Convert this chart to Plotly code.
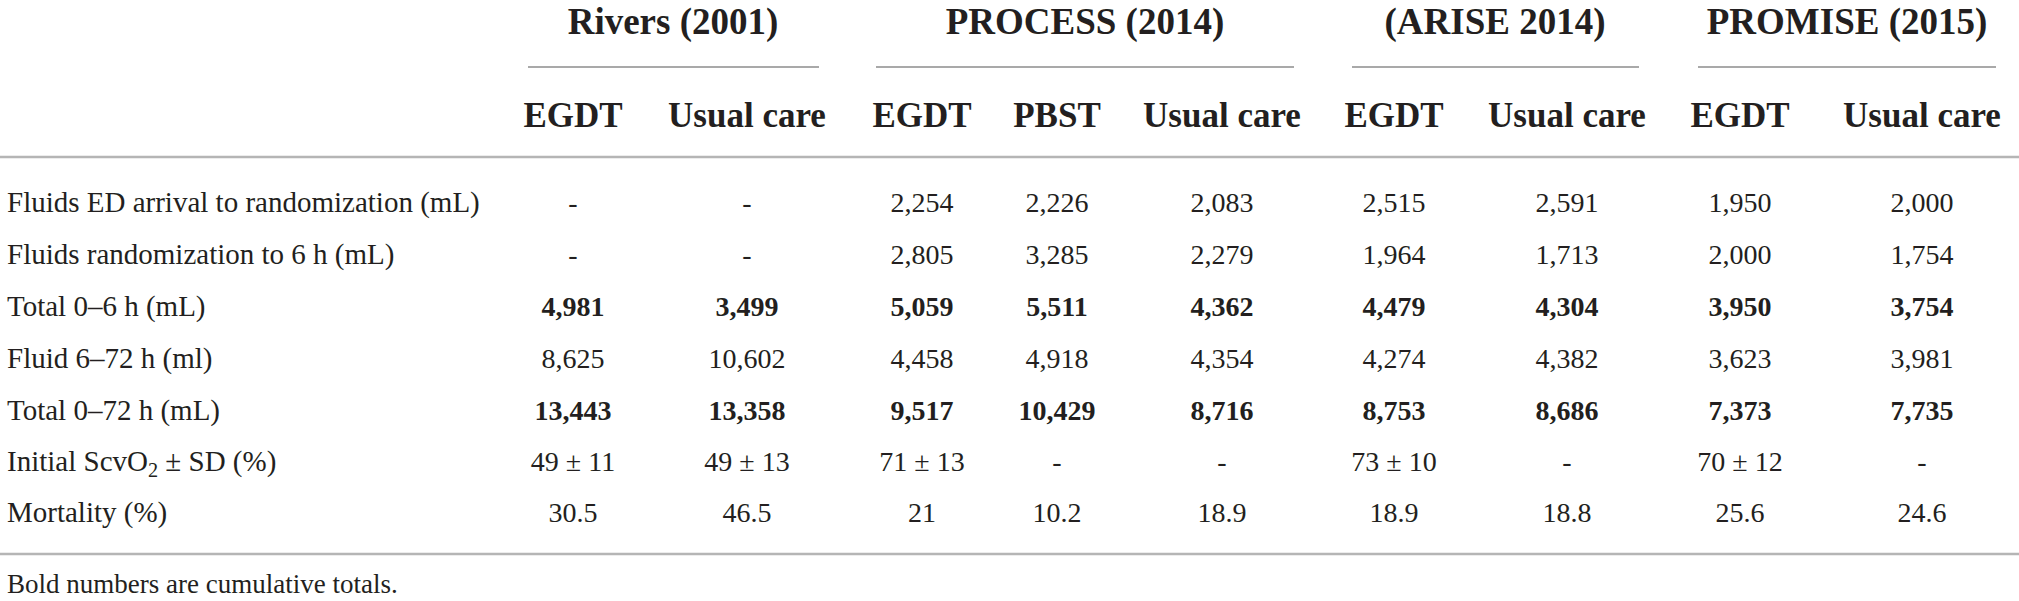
"""Table: fluids, ScvO2 and mortality across EGDT trials, drawn with plotly."""
import plotly.graph_objects as go

# ---- data -------------------------------------------------------------
groups = ["Rivers (2001)", "PROCESS (2014)", "(ARISE 2014)", "PROMISE (2015)"]
arms = ["EGDT", "Usual care",
        "EGDT", "PBST", "Usual care",
        "EGDT", "Usual care",
        "EGDT", "Usual care"]
row_labels = [
    "Fluids ED arrival to randomization (mL)",
    "Fluids randomization to 6 h (mL)",
    "Total 0\u20136 h (mL)",
    "Fluid 6\u201372 h (ml)",
    "Total 0\u201372 h (mL)",
    "Initial ScvO<sub>2</sub> \u00b1 SD (%)",
    "Mortality (%)",
]
fluids_ed = ["-", "-", "2,254", "2,226", "2,083", "2,515", "2,591", "1,950", "2,000"]
fluids_rand = ["-", "-", "2,805", "3,285", "2,279", "1,964", "1,713", "2,000", "1,754"]
total_6h = ["4,981", "3,499", "5,059", "5,511", "4,362", "4,479", "4,304", "3,950", "3,754"]
fluid_6_72h = ["8,625", "10,602", "4,458", "4,918", "4,354", "4,274", "4,382", "3,623", "3,981"]
total_72h = ["13,443", "13,358", "9,517", "10,429", "8,716", "8,753", "8,686", "7,373", "7,735"]
scvo2 = ["49 \u00b1 11", "49 \u00b1 13", "71 \u00b1 13", "-", "-", "73 \u00b1 10", "-", "70 \u00b1 12", "-"]
mortality = ["30.5", "46.5", "21", "10.2", "18.9", "18.9", "18.8", "25.6", "24.6"]
bold_rows = [False, False, True, False, True, False, False]
footnote = "Bold numbers are cumulative totals."

rows = [fluids_ed, fluids_rand, total_6h, fluid_6_72h, total_72h, scvo2, mortality]

# ---- layout (pixels) --------------------------------------------------
W, H = 2019, 601
col_x = [573, 747, 922, 1057, 1222, 1394, 1567, 1740, 1922]
group_x = [673, 1085, 1495, 1847]
group_lines = [(528, 819), (876, 1294), (1352, 1639), (1698, 1996)]
row_y = [205, 257, 309, 361, 413, 464, 515]
y_group, y_group_line, y_arm, y_head_line, y_bottom, y_note = 25, 67, 118, 157, 554, 586
label_x = 7

FONT = "Liberation Serif"
INK = "#231f20"

fig = go.Figure()

# group headers and arm headers
fig.add_trace(go.Scatter(
    x=group_x, y=[y_group] * len(groups), mode="text",
    text=[f"<b>{g}</b>" for g in groups],
    textfont=dict(family=FONT, size=37, color=INK),
    textposition="middle center", hoverinfo="skip"))
fig.add_trace(go.Scatter(
    x=col_x, y=[y_arm] * len(arms), mode="text",
    text=[f"<b>{a}</b>" for a in arms],
    textfont=dict(family=FONT, size=35, color=INK),
    textposition="middle center", hoverinfo="skip"))

# row labels
fig.add_trace(go.Scatter(
    x=[label_x] * len(row_labels), y=row_y, mode="text",
    text=row_labels,
    textfont=dict(family=FONT, size=29, color=INK),
    textposition="middle right", hoverinfo="skip"))

# body cells
for vals, y, bold in zip(rows, row_y, bold_rows):
    txt = [f"<b>{v}</b>" if bold else v for v in vals]
    fig.add_trace(go.Scatter(
        x=col_x, y=[y] * len(vals), mode="text", text=txt,
        textfont=dict(family=FONT, size=28, color=INK),
        textposition="middle center", hoverinfo="skip"))

# footnote
fig.add_trace(go.Scatter(
    x=[label_x], y=[y_note], mode="text", text=[footnote],
    textfont=dict(family=FONT, size=27, color=INK),
    textposition="middle right", hoverinfo="skip"))

# rules
for x0, x1 in group_lines:
    fig.add_shape(type="line", x0=x0, x1=x1, y0=y_group_line, y1=y_group_line,
                  line=dict(color="#8c8c8c", width=1.5))
for y in (y_head_line, y_bottom):
    fig.add_shape(type="line", x0=0, x1=W, y0=y, y1=y,
                  line=dict(color="#b5b5b5", width=2.5))

fig.update_layout(
    width=W, height=H, margin=dict(l=0, r=0, t=0, b=0),
    paper_bgcolor="white", plot_bgcolor="white", showlegend=False,
    xaxis=dict(range=[0, W], visible=False, fixedrange=True),
    yaxis=dict(range=[H, 0], visible=False, fixedrange=True),
)

fig.write_html("out.html", config={"displayModeBar": False},
               post_script="document.body.style.margin='0';")
